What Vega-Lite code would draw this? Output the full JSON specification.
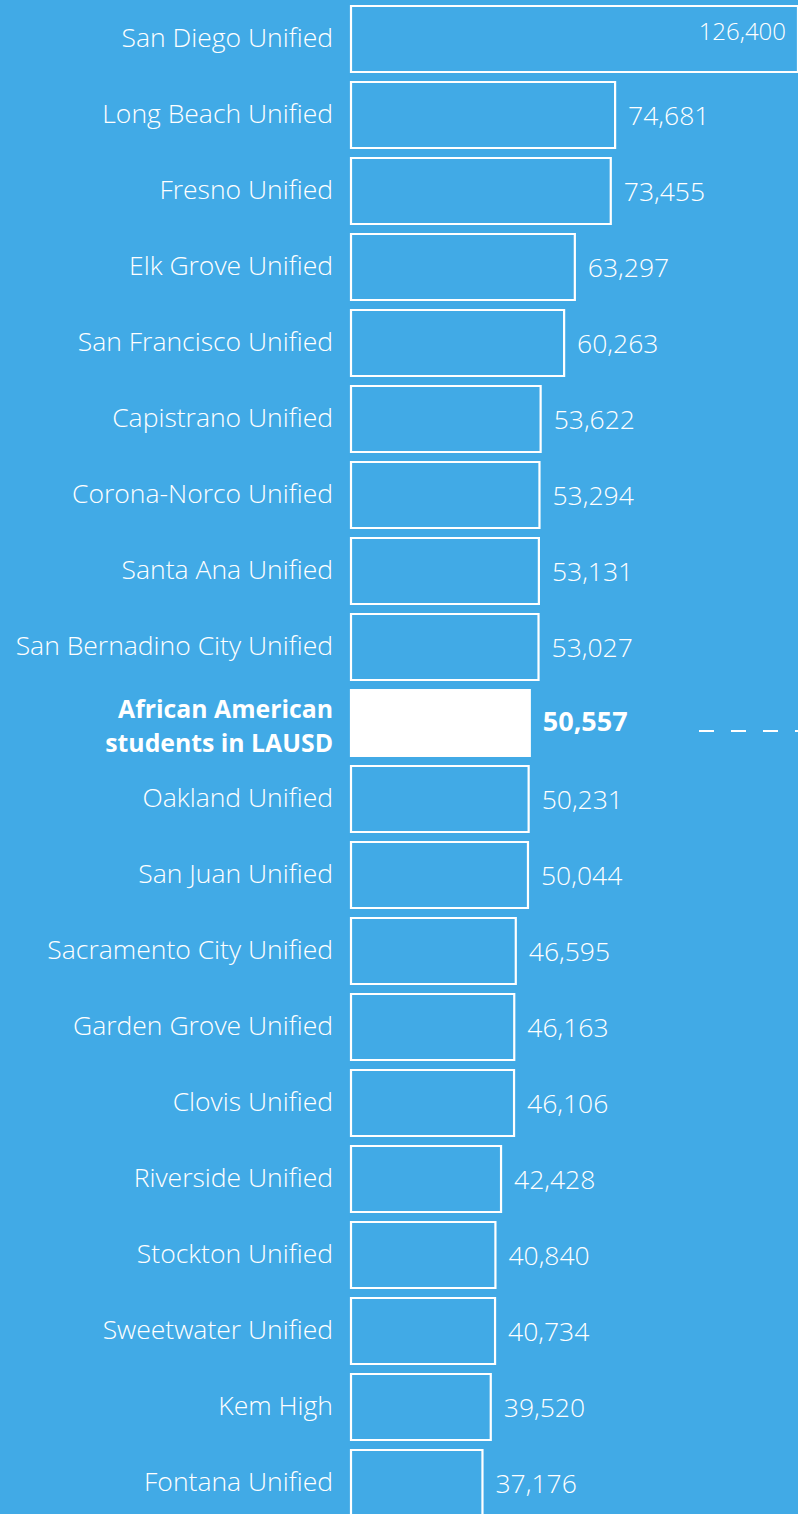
{
  "$schema": "https://vega.github.io/schema/vega-lite/v6.json",
  "autosize": "none",
  "padding": {"left": 351, "top": 0, "right": 0, "bottom": 0},
  "width": 447,
  "height": 1522,
  "background": "#41aae6",
  "config": {"view": {"stroke": null}},
  "data": {
    "values": [
      {"district": "San Diego Unified", "students": 126400},
      {"district": "Long Beach Unified", "students": 74681},
      {"district": "Fresno Unified", "students": 73455},
      {"district": "Elk Grove Unified", "students": 63297},
      {"district": "San Francisco Unified", "students": 60263},
      {"district": "Capistrano Unified", "students": 53622},
      {"district": "Corona-Norco Unified", "students": 53294},
      {"district": "Santa Ana Unified", "students": 53131},
      {"district": "San Bernadino City Unified", "students": 53027},
      {"district": "African American\nstudents in LAUSD", "students": 50557},
      {"district": "Oakland Unified", "students": 50231},
      {"district": "San Juan Unified", "students": 50044},
      {"district": "Sacramento City Unified", "students": 46595},
      {"district": "Garden Grove Unified", "students": 46163},
      {"district": "Clovis Unified", "students": 46106},
      {"district": "Riverside Unified", "students": 42428},
      {"district": "Stockton Unified", "students": 40840},
      {"district": "Sweetwater Unified", "students": 40734},
      {"district": "Kem High", "students": 39520},
      {"district": "Fontana Unified", "students": 37176}
    ]
  },
  "encoding": {
    "y": {
      "field": "district",
      "type": "nominal",
      "sort": null,
      "axis": null,
      "scale": {"paddingInner": 0.1316, "paddingOuter": 0.079}
    }
  },
  "layer": [
    {
      "mark": {"type": "bar", "stroke": "white", "strokeWidth": 2.2, "cornerRadius": 0},
      "encoding": {
        "x": {"field": "students", "type": "quantitative", "axis": null, "scale": {"domain": [0, 126400], "nice": false, "zero": true}},
        "fill": {
          "condition": {"test": "indexof(datum.district, 'LAUSD') >= 0", "value": "white"},
          "value": "#41aae6"
        }
      }
    },
    {
      "transform": [{"filter": "indexof(datum.district, 'LAUSD') < 0"}],
      "mark": {"type": "text", "align": "right", "baseline": "middle", "dx": -18, "dy": 0, "font": "Open Sans", "fontSize": 26.5, "fontWeight": 300, "color": "white"},
      "encoding": {
        "x": {"datum": 0, "type": "quantitative"},
        "text": {"field": "district"}
      }
    },
    {
      "transform": [{"filter": "indexof(datum.district, 'LAUSD') >= 0"}],
      "mark": {"type": "text", "align": "right", "baseline": "middle", "dx": -18, "dy": -12, "font": "Open Sans", "fontSize": 24.8, "fontWeight": "bold", "lineBreak": "\n", "lineHeight": 34, "color": "white"},
      "encoding": {
        "x": {"datum": 0, "type": "quantitative"},
        "text": {"field": "district"}
      }
    },
    {
      "transform": [{"filter": "indexof(datum.district, 'LAUSD') < 0 && datum.students < 100000"}],
      "mark": {"type": "text", "align": "left", "baseline": "middle", "dx": 13, "dy": 2, "font": "Open Sans", "fontSize": 26.5, "fontWeight": 300, "color": "white"},
      "encoding": {
        "x": {"field": "students", "type": "quantitative"},
        "text": {"field": "students", "format": ","}
      }
    },
    {
      "transform": [{"filter": "datum.students >= 100000"}],
      "mark": {"type": "text", "align": "right", "baseline": "middle", "dx": -12, "dy": -6, "font": "Open Sans", "fontSize": 24, "fontWeight": 300, "color": "white"},
      "encoding": {
        "x": {"field": "students", "type": "quantitative"},
        "text": {"field": "students", "format": ","}
      }
    },
    {
      "transform": [{"filter": "indexof(datum.district, 'LAUSD') >= 0"}],
      "mark": {"type": "text", "align": "left", "baseline": "middle", "dx": 13, "font": "Open Sans", "fontSize": 27, "fontWeight": "bold", "color": "white"},
      "encoding": {
        "x": {"field": "students", "type": "quantitative"},
        "text": {"field": "students", "format": ","}
      }
    },
    {
      "transform": [{"filter": "indexof(datum.district, 'LAUSD') >= 0"}],
      "mark": {"type": "rule", "color": "white", "strokeWidth": 2, "strokeDash": [15, 17], "yOffset": 8},
      "encoding": {
        "x": {"datum": 98400, "type": "quantitative"},
        "x2": {"datum": 126400}
      }
    }
  ]
}
